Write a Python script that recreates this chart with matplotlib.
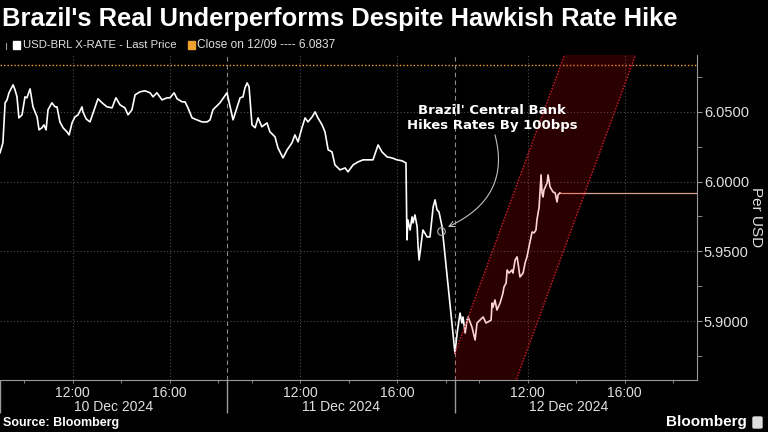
import matplotlib
matplotlib.use("Agg")
import matplotlib.pyplot as plt
from matplotlib.patches import Polygon, Rectangle, FancyBboxPatch
import matplotlib.transforms as mtransforms

plt.rcParams['font.family'] = ['Liberation Sans', 'DejaVu Sans']

# hours since 10 Dec 09:00, trading sessions only (overnight gaps removed)
t = [0.00, 0.12, 0.21, 0.29, 0.37, 0.54, 0.62, 0.70, 0.78, 0.91, 1.03, 1.11, 1.24, 1.36, 1.53,
     1.61, 1.73, 1.81, 1.90, 1.98, 2.14, 2.27, 2.35, 2.47, 2.60, 2.76, 2.85, 2.97, 3.09, 3.22,
     3.38, 3.42, 3.55, 3.71, 3.84, 4.04, 4.21, 4.41, 4.62, 4.78, 4.95, 5.15, 5.28, 5.44, 5.57,
     5.77, 5.98, 6.19, 6.31, 6.47, 6.68, 6.89, 7.01, 7.18, 7.30, 7.51, 7.63, 7.75, 7.92, 8.12,
     8.33, 8.54, 8.66, 8.78, 9.07, 9.36, 9.61, 9.77, 9.90, 10.02, 10.10, 10.19, 10.27, 10.39,
     10.52, 10.64, 10.80, 11.01, 11.13, 11.34, 11.46, 11.67, 11.84, 12.04, 12.16, 12.29, 12.45,
     12.58, 12.70, 12.87, 12.99, 13.11, 13.28, 13.40, 13.53, 13.69, 13.81, 14.02, 14.23, 14.35,
     14.56, 14.76, 14.97, 15.38, 15.59, 15.75, 15.96, 16.16, 16.37, 16.58, 16.74, 16.78, 16.82,
     16.91, 16.99, 17.03, 17.11, 17.20, 17.24, 17.28, 17.40, 17.44, 17.61, 17.73, 17.86, 17.94,
     18.02, 18.10, 18.23, 18.76, 18.85, 18.97, 19.05, 19.09, 19.18, 19.26, 19.30, 19.46, 19.59,
     19.67, 19.79, 19.92, 20.04, 20.12, 20.25, 20.29, 20.33, 20.41, 20.49, 20.62, 20.74, 20.78,
     20.87, 20.91, 20.99, 21.11, 21.15, 21.24, 21.32, 21.36, 21.44, 21.57, 21.65, 21.73, 21.81,
     21.94, 22.02, 22.10, 22.14, 22.23, 22.31, 22.35, 22.39, 22.43, 22.56, 22.60, 22.68, 22.80,
     22.89, 22.97, 23.01, 23.09]
usdbrl = [6.0206, 6.0278, 6.0565, 6.0586, 6.0637, 6.0694, 6.0658, 6.0608, 6.0457, 6.0479, 6.0608,
          6.0601, 6.0665, 6.0536, 6.0464, 6.0371, 6.0386, 6.0407, 6.0371, 6.0515, 6.0565, 6.0536,
          6.0536, 6.0428, 6.0386, 6.0357, 6.0335, 6.0421, 6.0464, 6.0479, 6.0536, 6.0500, 6.0450,
          6.0428, 6.0493, 6.0594, 6.0565, 6.0536, 6.0529, 6.0601, 6.0550, 6.0529, 6.0479, 6.0515,
          6.0622, 6.0644, 6.0651, 6.0637, 6.0608, 6.0637, 6.0586, 6.0601, 6.0601, 6.0637, 6.0594,
          6.0572, 6.0572, 6.0529, 6.0457, 6.0443, 6.0428, 6.0428, 6.0443, 6.0515, 6.0565, 6.0637,
          6.0443, 6.0529, 6.0601, 6.0608, 6.0672, 6.0708, 6.0680, 6.0407, 6.0386, 6.0457, 6.0393,
          6.0421, 6.0357, 6.0321, 6.0242, 6.0170, 6.0228, 6.0278, 6.0335, 6.0285, 6.0386, 6.0457,
          6.0428, 6.0464, 6.0500, 6.0457, 6.0407, 6.0357, 6.0228, 6.0213, 6.0120, 6.0084, 6.0098,
          6.0070, 6.0120, 6.0141, 6.0156, 6.0156, 6.0263, 6.0213, 6.0177, 6.0170, 6.0156, 6.0149,
          6.0134, 5.9582, 5.9725, 5.9653, 5.9747, 5.9704, 5.9761, 5.9675, 5.9531, 5.9438, 5.9603,
          5.9653, 5.9603, 5.9603, 5.9818, 5.9869, 5.9797, 5.9783, 5.9675, 5.8770, 5.8914, 5.9057,
          5.8986, 5.9029, 5.8914, 5.9007, 5.9029, 5.8957, 5.8864, 5.8986, 5.9007, 5.9029, 5.8986,
          5.8993, 5.9007, 5.9129, 5.9100, 5.9151, 5.9079, 5.9129, 5.9201, 5.9244, 5.9273, 5.9366,
          5.9344, 5.9366, 5.9344, 5.9438, 5.9460, 5.9416, 5.9316, 5.9344, 5.9416, 5.9460, 5.9531,
          5.9639, 5.9632, 5.9653, 5.9725, 5.9818, 6.0048, 5.9919, 5.9890, 5.9940, 5.9991, 6.0048,
          5.9962, 5.9926, 5.9919, 5.9854, 5.9905, 5.9919]

close_1209 = 6.0837
last_price = 5.9919
days = ['10 Dec 2024', '11 Dec 2024', '12 Dec 2024']
day_len = 9.38          # session hours per day on the axis
hour_ticks = [1, 3, 5, 7, 9]   # 10:00 .. 18:00
hour_labels = ['', '12:00', '', '16:00', '']
yticks = [5.90, 5.95, 6.00, 6.05]
hike_point = (18.19, 5.9646)
# red channel drawn on 12 Dec
band = [(18.76, 5.85), (18.76, 5.877), (23.47, 6.10), (26.40, 6.10), (21.12, 5.85)]

fig = plt.figure(figsize=(7.68, 4.32), dpi=100, facecolor='black')
ax = fig.add_axes([0.0, 1 - 380 / 432, 697 / 768, 325 / 432])
ax.set_facecolor('black')
ax.set_xlim(0, 28.74)
ax.set_ylim(5.8577, 6.0908)

grid_c = '#4d4d4d'
for y in yticks:
    ax.axhline(y, color=grid_c, lw=0.8, ls=(0, (1, 2)), zorder=1)
day_starts = [i * day_len for i in range(len(days))]
for d in day_starts:
    for h in (3, 7):
        ax.axvline(d + h, color=grid_c, lw=0.8, ls=(0, (1, 2)), zorder=1)
for d in day_starts[1:]:
    ax.axvline(d, color='#8c8c8c', lw=0.8, ls=(0, (4, 3)), zorder=1)

ax.axhline(close_1209, color='#f0a030', lw=1.0, ls=(0, (1, 1.5)), zorder=2)

ax.plot(t, usdbrl, color='white', lw=1.2, zorder=3)
ax.plot([t[-1], 28.74], [last_price, last_price], color='#e0a090', lw=0.9, zorder=3)
ax.plot(*hike_point, marker='o', ms=5.5, mfc='none', mec='#b0b0b0', mew=0.8, zorder=4)

# channel overlay
ax.add_patch(Polygon(band, closed=True, facecolor=(1.0, 0.0, 0.0), alpha=0.17,
                     edgecolor='none', zorder=5))
ax.plot([band[1][0], band[2][0]], [band[1][1], band[2][1]], color='#c01828', lw=1.1,
        ls=(0, (1, 1)), zorder=6)
ax.plot([band[4][0], band[3][0]], [band[4][1], band[3][1]], color='#c01828', lw=1.1,
        ls=(0, (1, 1)), zorder=6)

ax.text(20.29, 6.0457, "Brazil' Central Bank\nHikes Rates By 100bps", color='white',
        fontsize=9.5, fontweight='bold', family='DejaVu Sans', ha='center', va='center',
        linespacing=1.25, zorder=7)
ax.annotate('', xy=(18.47, 5.9675), xytext=(20.41, 6.0335),
            arrowprops=dict(arrowstyle='->', color='#c0c0c0', lw=0.8,
                            connectionstyle='angle3,angleA=-75,angleB=25',
                            shrinkA=0, shrinkB=0), zorder=7)

# axes styling
for s in ['left', 'top']:
    ax.spines[s].set_visible(False)
ax.spines['bottom'].set_color('#9a9a9a')
ax.spines['right'].set_color('#9a9a9a')
ax.yaxis.tick_right()
ax.set_yticks(yticks)
ax.set_yticklabels(['%.4f' % v for v in yticks])
ax.set_yticks([5.875, 5.925, 5.975, 6.025, 6.075], minor=True)
ax.tick_params(axis='y', which='both', colors='#9a9a9a', labelcolor='#e0e0e0',
               labelsize=10.5, length=3.5, pad=1.5)

ax.set_xticks(day_starts)
ax.set_xticklabels([])
ax.set_xticks([d + h for d in day_starts for h in hour_ticks], minor=True)
ax.set_xticklabels(hour_labels * len(days), minor=True)
ax.tick_params(axis='x', which='major', colors='#9a9a9a', length=24, width=1)
ax.tick_params(axis='x', which='minor', colors='#9a9a9a', labelcolor='#e0e0e0',
               labelsize=10, length=2.5, pad=1.5)

trans = mtransforms.blended_transform_factory(ax.transData, ax.transAxes)
for d, name in zip(day_starts, days):
    ax.text(d + day_len / 2, -0.083, name, transform=trans, color='#e0e0e0',
            fontsize=10, ha='center', va='center')

ax.text(1.085, 0.5, 'Per USD', transform=ax.transAxes, rotation=270, color='#e0e0e0',
        fontsize=11, ha='center', va='center')

# title, legend, footer
fig.text(0.002, 1 - 19 / 432, "Brazil's Real Underperforms Despite Hawkish Rate Hike",
         color='white', fontsize=18.4, fontweight='bold', va='center', ha='left')
fig.lines.append(plt.Line2D([5.5 / 768, 5.5 / 768], [1 - 49 / 432, 1 - 43 / 432],
                            transform=fig.transFigure, color='#9a9a9a', lw=0.8))
fig.patches.append(Rectangle((13 / 768, 1 - 48.5 / 432), 7 / 768, 7 / 432,
                             transform=fig.transFigure, color='white'))
fig.text(23 / 768, 1 - 45 / 432, 'USD-BRL X-RATE - Last Price', color='#e0e0e0',
         fontsize=8.2, va='center', ha='left')
fig.patches.append(Rectangle((188 / 768, 1 - 48.5 / 432), 7 / 768, 7 / 432,
                             transform=fig.transFigure, color='#f0a030'))
fig.text(197 / 768, 1 - 45 / 432, 'Close on 12/09 ---- 6.0837', color='#e0e0e0',
         fontsize=8.6, va='center', ha='left')

fig.text(3 / 768, 1 - 423 / 432, 'Source: Bloomberg', color='white', fontsize=9,
         fontweight='bold', va='center', ha='left')
fig.text(747 / 768, 1 - 422 / 432, 'Bloomberg', color='white', fontsize=11,
         fontweight='bold', va='center', ha='right')
fig.patches.append(FancyBboxPatch((753 / 768, 1 - 428 / 432), 9 / 768, 11 / 432,
                                  boxstyle='round,pad=0,rounding_size=0.002',
                                  transform=fig.transFigure, color='#dddddd'))

fig.savefig('out.png', dpi=100, facecolor='black')
